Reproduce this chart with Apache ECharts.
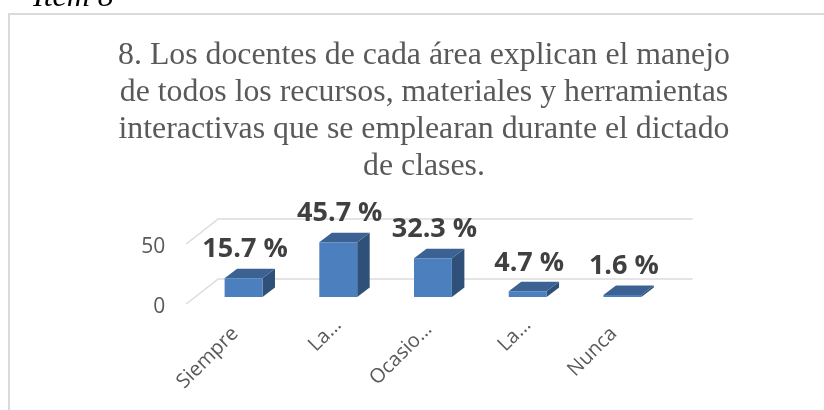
<!DOCTYPE html>
<html><head><meta charset="utf-8">
<style>html,body{margin:0;padding:0;background:#fff}#c{width:824px;height:410px}</style>
<script src="https://cdn.jsdelivr.net/npm/echarts@6/dist/echarts.min.js"></script>
</head><body><div id="c"></div>
<script>
const categories = ['Siempre', 'La…', 'Ocasio…', 'La…', 'Nunca'];
const values = [15.7, 45.7, 32.3, 4.7, 1.6];
const valueLabels = ['15.7 %', '45.7 %', '32.3 %', '4.7 %', '1.6 %'];
const gridTicks = [0, 50];
const titleText = '8. Los docentes de cada área explican el manejo\nde todos los recursos, materiales y herramientas\ninteractivas que se emplearan durante el dictado\nde clases.';
const headingText = 'Item 8';

const chart = echarts.init(document.getElementById('c'), null, {renderer: 'canvas'});
const FLOOR = 7, DX = 12.5, DY = 9.5, WALLX = 32, WALLY = 25;

function renderBar(params, api) {
  const i = api.value(0), v = api.value(1);
  const p = api.coord([i, v]);
  const w = api.size([1, 0])[0] * 0.4;
  const l = p[0] - w / 2, r = p[0] + w / 2, t = p[1] - FLOOR, b = api.coord([i, 0])[1] - FLOOR;
  return {type: 'group', children: [
    {type: 'polygon', shape: {points: [[r, b], [r + DX, b - DY], [r + DX, t - DY], [r, t]]}, style: {fill: '#2F5078'}},
    {type: 'polygon', shape: {points: [[l, t], [r, t], [r + DX, t - DY], [l + DX, t - DY]]}, style: {fill: '#3B6292'}},
    {type: 'rect', shape: {x: l, y: t, width: w, height: b - t}, style: {fill: '#4C7FBD'}},
    {type: 'text', x: p[0] + 1.5, y: t - DY - 19, style: {text: valueLabels[i], fill: '#404040', font: 'bold 27px "Open Sans"', align: 'center', verticalAlign: 'middle'}}
  ]};
}
function renderWall(params, api) {
  const y = api.coord([0, api.value(1)])[1];
  const c = params.coordSys;
  const x0 = c.x - 10, x1 = x0 + WALLX, x2 = c.x + c.width + 23;
  return {type: 'polyline', shape: {points: [[x0, y], [x1, y - WALLY], [x2, y - WALLY]]},
    style: {fill: 'none', stroke: '#DCDCDC', lineWidth: 1.5}};
}
const labelStyle = {color: '#595959', fontSize: 20, fontFamily: 'Open Sans'};
const tickStyle = {color: '#595959', fontSize: 21, fontFamily: 'Open Sans'};

chart.setOption({
  animation: false,
  backgroundColor: '#fff',
  title: {text: titleText, left: 419, top: 32, textAlign: 'center',
    textStyle: {fontFamily: 'Liberation Serif', fontWeight: 'normal', fontSize: 31.8, lineHeight: 37, color: '#595959'}},
  grid: {left: 196.2, width: 473.5, top: 244, height: 60},
  xAxis: {type: 'category', data: categories,
    axisLine: {show: false}, axisTick: {show: false}, splitLine: {show: false},
    axisLabel: {rotate: 45, interval: 0, margin: 18, ...labelStyle,
      formatter: v => v.endsWith('…') ? (v.length < 4 ? `{s|${v}}` : `{m|${v}}`) : `{l|${v}}`,
      rich: {
        s: {...labelStyle, padding: [0, 0, 0, 0]},
        m: {...labelStyle, padding: [0, 6, 0, 0]},
        l: {...labelStyle, padding: [0, 12, 0, 0]}
      }}},
  yAxis: {type: 'value', min: 0, max: 50, interval: 50,
    axisLine: {show: false}, axisTick: {show: false}, splitLine: {show: false},
    axisLabel: {margin: 31, ...tickStyle, formatter: v => `{t|${v}}`,
      rich: {t: {...tickStyle, padding: [6, 0, 0, 0]}}}},
  series: [
    {type: 'custom', silent: true, z: 1, renderItem: renderWall, data: gridTicks.map(v => [0, v])},
    {type: 'custom', silent: true, z: 2, renderItem: renderBar, data: values.map((v, i) => [i, v])}
  ],
  graphic: [
    {type: 'polyline', silent: true, shape: {points: [[9, 430], [9, 14], [830, 14]]}, style: {fill: 'none', stroke: '#DADADA', lineWidth: 2}},
    {type: 'text', silent: true, x: 33, y: 14, style: {text: headingText, font: 'italic 32px "Liberation Serif"', fill: '#000', verticalAlign: 'bottom'}}
  ]
});
</script></body></html>
